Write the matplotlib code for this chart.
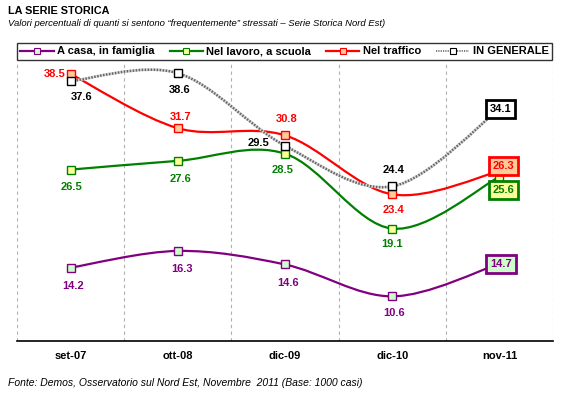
import numpy as np
import matplotlib.pyplot as plt
from matplotlib.path import Path
from matplotlib.patches import PathPatch
from matplotlib.lines import Line2D

plt.rcParams['font.family'] = ['Liberation Sans', 'DejaVu Sans']

# dati
periodi = ['set-07', 'ott-08', 'dic-09', 'dic-10', 'nov-11']
casa = [14.2, 16.3, 14.6, 10.6, 14.7]
lavoro = [26.5, 27.6, 28.5, 19.1, 25.6]
traffico = [38.5, 31.7, 30.8, 23.4, 26.3]
generale = [37.6, 38.6, 29.5, 24.4, 34.1]
nomi = ['A casa, in famiglia', 'Nel lavoro, a scuola', 'Nel traffico', 'IN GENERALE']


def smooth_path(xs, ys):
    # curva "smussata" come in Excel: bezier cubiche passanti per i punti
    pts = np.column_stack([xs, ys]).astype(float)
    n = len(pts)
    verts = [pts[0]]
    codes = [Path.MOVETO]
    for i in range(n - 1):
        p0 = pts[max(i - 1, 0)]
        p1 = pts[i]
        p2 = pts[i + 1]
        p3 = pts[min(i + 2, n - 1)]
        verts += [p1 + (p2 - p0) / 6, p2 - (p3 - p1) / 6, p2]
        codes += [Path.CURVE4] * 3
    return Path(verts, codes)


fig = plt.figure(figsize=(5.74, 3.99), dpi=100)
ax = fig.add_axes([17 / 574, 1 - 341 / 399, 536 / 574, 279 / 399])
x = np.arange(len(periodi))

# colore linea, riempimento marker, offset etichette (punti), offset box finale
serie = [
    (casa, '#800080', '#CCFFCC', [(2, -13), (3, -13), (2, -13), (1, -12)], (1, -0.5)),
    (lavoro, '#008000', '#FFFF99', [(1, -12.5), (2, -13), (-2, -12), (0, -11)], (3, -9.5)),
    (traffico, '#FF0000', '#FFCC99', [(-4, 0), (2, 8), (1, 11.5), (1, -11.5)], (3, 4)),
    (generale, 'black', 'white', [(8, -11.5), (1, -12), (-11, 2), (1, 12)], (1, 0)),
]

for k, (vals, col, fill, offs, last_off) in enumerate(serie):
    path = smooth_path(x, vals)
    if col == 'black':
        ax.add_patch(PathPatch(path, facecolor='none', edgecolor='#d8d8d8', lw=2.0, zorder=2 + k))
        ax.add_patch(PathPatch(path, facecolor='none', edgecolor='#666666', lw=1.8,
                               linestyle=(0, (0.6, 0.6)), zorder=2 + k))
    else:
        ax.add_patch(PathPatch(path, facecolor='none', edgecolor=col, lw=1.6, zorder=2 + k))
    ax.plot(x, vals, 's', ms=6, mfc=fill, mec=col, mew=1, zorder=6 + k)
    for i in range(len(vals) - 1):
        dx, dy = offs[i]
        ha = 'right' if (col == '#FF0000' and i == 0) or (col == 'black' and i == 2) else 'center'
        ax.annotate(f'{vals[i]:.1f}', (x[i], vals[i]), xytext=(dx, dy), textcoords='offset points',
                    ha=ha, va='center', fontsize=8, fontweight='bold', color=col, zorder=12)
    ax.annotate(f'{vals[-1]:.1f}', (x[-1], vals[-1]), xytext=last_off, textcoords='offset points',
                ha='center', va='center', fontsize=8, fontweight='bold', color=col, zorder=14,
                bbox=dict(boxstyle='square,pad=0.35', fc=fill, ec=col, lw=2))

ax.set_xlim(-0.5, 4.5)
ax.set_ylim(5, 40)
ax.set_xticks(x)
ax.set_xticklabels(periodi, fontsize=8, fontweight='bold')
ax.set_xticks(np.arange(-0.5, 5, 1), minor=True)
ax.tick_params(axis='x', which='both', length=0, pad=7)
ax.xaxis.grid(True, which='minor', color='#b0b0b0', linestyle=(0, (3, 3)), lw=0.8)
ax.set_yticks([])
for s in ['left', 'top', 'right']:
    ax.spines[s].set_visible(False)
ax.spines['bottom'].set_linewidth(1.2)

handles = [
    Line2D([], [], color='#800080', lw=1.6, marker='s', ms=4, mfc='#CCFFCC', mec='#800080', mew=0.8),
    Line2D([], [], color='#008000', lw=1.6, marker='s', ms=4, mfc='#FFFF99', mec='#008000', mew=0.8),
    Line2D([], [], color='#FF0000', lw=1.6, marker='s', ms=4, mfc='#FFCC99', mec='#FF0000', mew=0.8),
    Line2D([], [], color='#777777', lw=1.4, ls=(0, (0.6, 0.6)), marker='s', ms=4, mfc='white',
           mec='black', mew=0.8),
]
leg = fig.legend(handles, nomi, loc='center', ncol=4, mode='expand',
                 bbox_to_anchor=(17 / 574, 1 - 61 / 399, 535 / 574, 19 / 399),
                 prop={'size': 8, 'weight': 'bold'}, frameon=True, fancybox=False,
                 handlelength=3.0, handletextpad=0.3, columnspacing=1.0, borderpad=0.3,
                 borderaxespad=0)
leg.get_frame().set_edgecolor('black')
leg.get_frame().set_linewidth(1.0)

fig.text(8 / 574, 1 - 11 / 399, 'LA SERIE STORICA', fontsize=7.8, fontweight='bold', va='center')
fig.text(8 / 574, 1 - 24 / 399,
         'Valori percentuali di quanti si sentono \u201cfrequentemente\u201d stressati \u2013 Serie Storica Nord Est)',
         fontsize=6.8, style='italic', va='center')
fig.text(8 / 574, 1 - 383 / 399,
         'Fonte: Demos, Osservatorio sul Nord Est, Novembre  2011 (Base: 1000 casi)',
         fontsize=7.5, style='italic', va='center')

fig.savefig('out.png', dpi=100)
